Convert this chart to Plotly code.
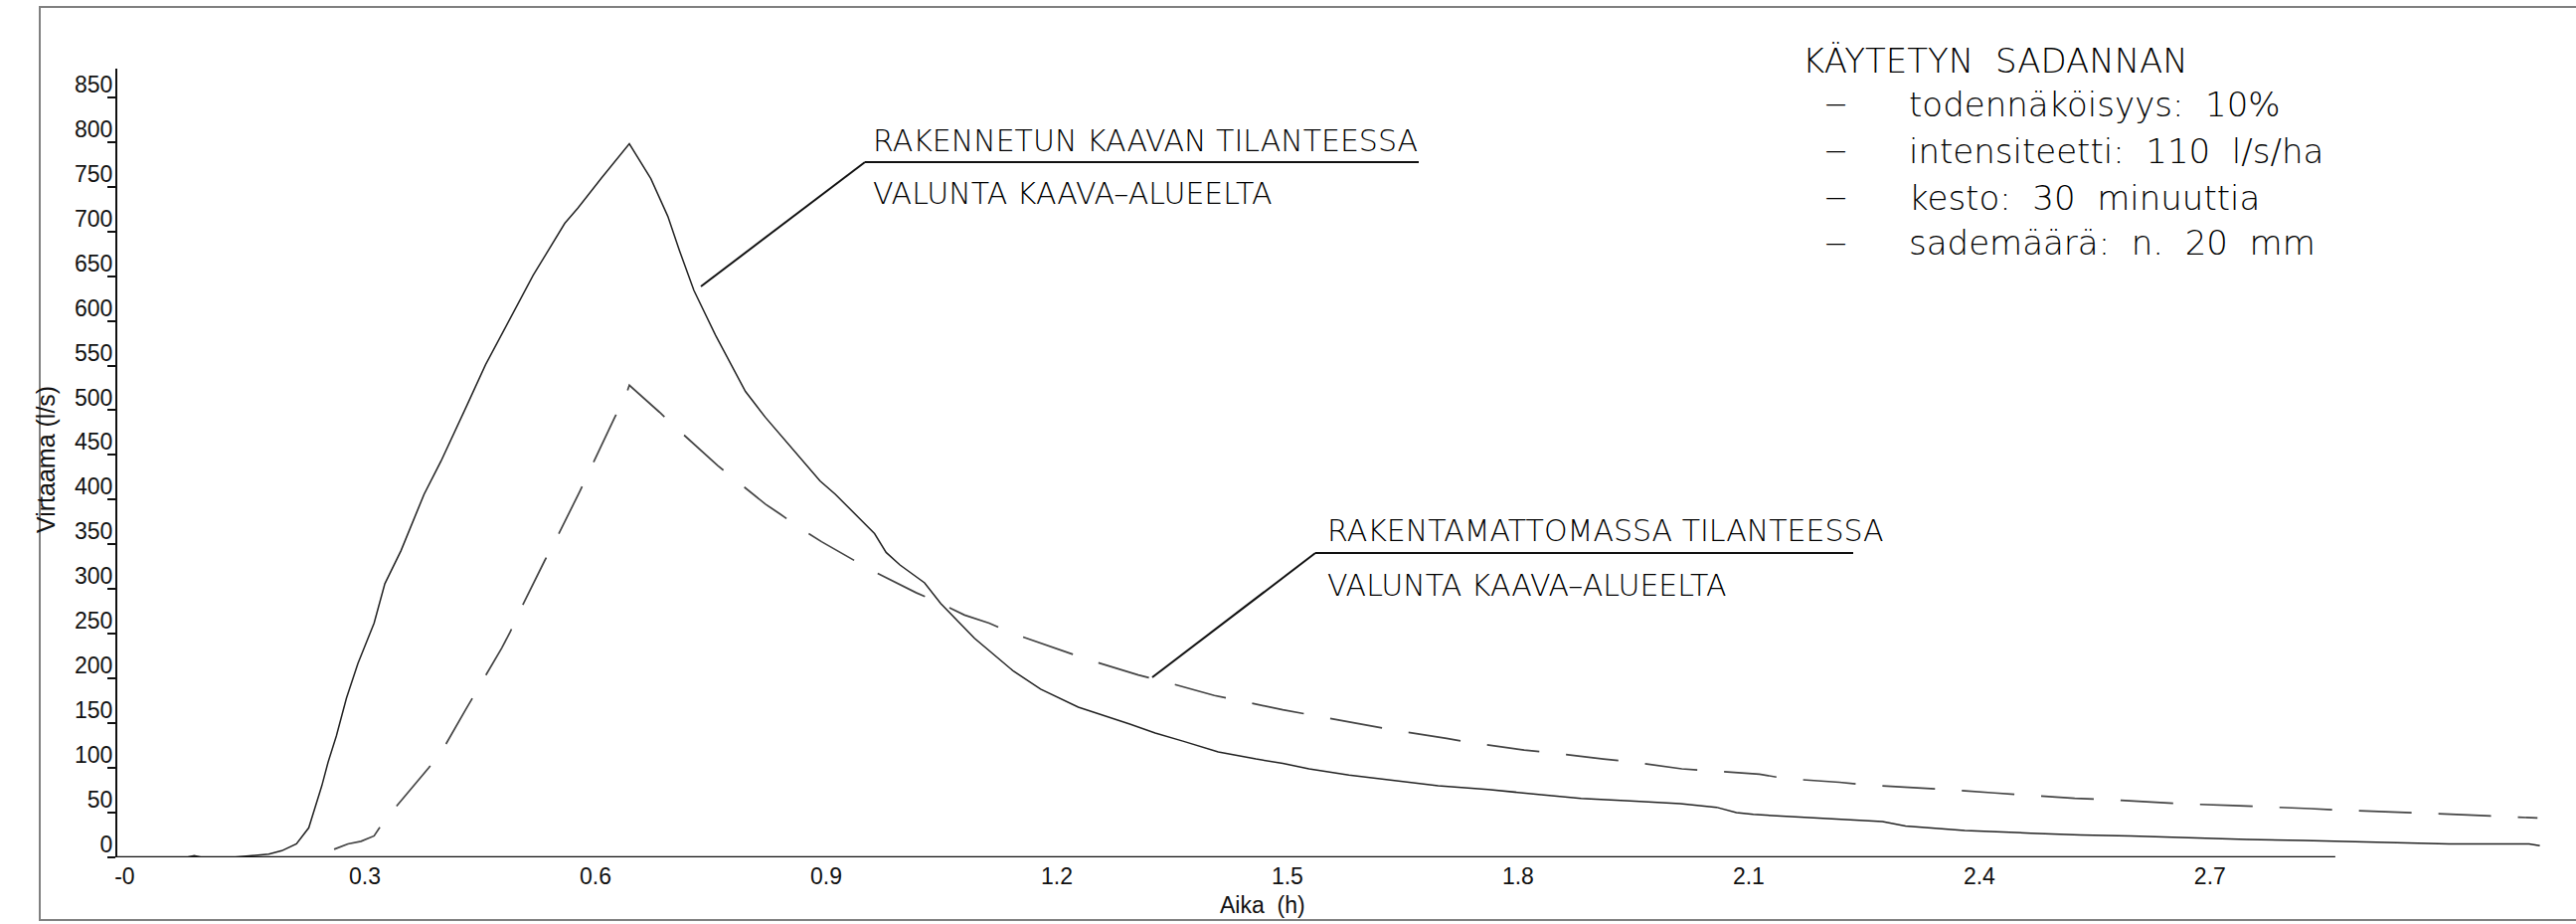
import plotly.graph_objects as go

# ---------------- data ----------------
t_built = [0, 0.09, 0.10, 0.11, 0.15, 0.171, 0.197, 0.214, 0.233, 0.249, 0.266, 0.274,
           0.285, 0.298, 0.313, 0.334, 0.348, 0.369, 0.399, 0.421, 0.449, 0.455, 0.479,
           0.503, 0.541, 0.582, 0.599, 0.630, 0.666, 0.694, 0.716, 0.731, 0.750, 0.778,
           0.817, 0.843, 0.914, 0.934, 0.968, 0.985, 1.000, 1.018, 1.050, 1.071, 1.115,
           1.166, 1.201, 1.250, 1.317, 1.350, 1.386, 1.432, 1.481, 1.516, 1.550, 1.602,
           1.718, 1.783, 1.852, 1.904, 1.968, 2.033, 2.080, 2.106, 2.128, 2.171, 2.231,
           2.296, 2.326, 2.403, 2.489, 2.554, 2.619, 2.684, 2.770, 2.843, 2.929, 3.033,
           3.137, 3.151]
q_built = [0, 0, 2, 0, 0, 1.4, 3.7, 7.4, 15, 33, 80, 106,
           136, 178, 217, 262, 306, 343, 406, 443, 494, 506, 551,
           590, 651, 709, 726, 760, 798, 759, 717, 679, 634, 584,
           521, 492, 421, 406, 377, 362, 341, 327, 307, 284, 245,
           208, 188, 168, 149, 139, 130, 118, 110, 105, 99, 92,
           80, 76, 70, 66, 63, 60, 56, 50, 48, 46, 43,
           40, 35, 30, 27, 25, 24, 22, 20, 19, 17, 15,
           15, 13]

t_natural = [0.282, 0.300, 0.317, 0.334, 0.341, 0.362, 0.405, 0.427, 0.453, 0.478, 0.500,
             0.511, 0.526, 0.556, 0.572, 0.602, 0.617, 0.634, 0.647, 0.662, 0.666, 0.705,
             0.731, 0.781, 0.809, 0.843, 0.862, 0.890, 0.916, 0.949, 0.979, 1.039, 1.071,
             1.102, 1.134, 1.166, 1.231, 1.263, 1.328, 1.360, 1.427, 1.461, 1.516, 1.561,
             1.628, 1.662, 1.729, 1.763, 1.830, 1.865, 1.933, 1.968, 2.035, 2.069, 2.136,
             2.171, 2.240, 2.274, 2.341, 2.376, 2.442, 2.477, 2.546, 2.580, 2.647, 2.682,
             2.752, 2.785, 2.853, 2.886, 2.955, 2.990, 3.058, 3.093, 3.148]
q_natural = [9, 15, 18, 24, 33, 56, 100, 126, 165, 202, 234,
             252, 280, 332, 358, 410, 438, 469, 492, 518, 528, 498,
             477, 438, 419, 395, 384, 367, 353, 337, 322, 296, 284,
             271, 262, 250, 230, 221, 204, 197, 181, 175, 165, 158,
             147, 142, 133, 128, 120, 117, 110, 107, 99, 97, 93,
             88, 84, 81, 78, 76, 72, 70, 66, 65, 62, 60,
             58, 57, 54.5, 53, 51, 50, 47.5, 46, 44]

x_tickvals = [0, 0.3, 0.6, 0.9, 1.2, 1.5, 1.8, 2.1, 2.4, 2.7]
x_ticktext = ["-0\u00a0\u00a0\u00a0", "0.3", "0.6", "0.9", "1.2", "1.5", "1.8",
              "2.1", "2.4", "2.7"]
y_tickvals = list(range(0, 851, 50))
y_ticktext = [str(v) for v in y_tickvals]

x_title = "Aika\u00a0\u00a0(h)"
y_title = "Virtaama (l/s)"
label_built = ["RAKENNETUN KAAVAN TILANTEESSA", "VALUNTA KAAVA\u2013ALUEELTA"]
label_natural = ["RAKENTAMATTOMASSA TILANTEESSA", "VALUNTA KAAVA\u2013ALUEELTA"]
info_title = "KÄYTETYN\u00a0\u00a0SADANNAN"
info_lines = ["todennäköisyys:\u00a0\u00a010%",
              "intensiteetti:\u00a0\u00a0110\u00a0\u00a0l/s/ha",
              "kesto:\u00a0\u00a030\u00a0\u00a0minuuttia",
              "sademäärä:\u00a0\u00a0n.\u00a0\u00a020\u00a0\u00a0mm"]

X_MAX = 3.158
Y_MAX = 882
X_AXIS_END = 2.885

# ---------------- layout geometry (pixels) ----------------
W, H = 2591, 929
L, R_PX, T, B_PX = 118, 2560, 69, 862
PW, PH = R_PX - L, B_PX - T


def px(x):
    return (x - L) / PW


def py(y):
    return (B_PX - y) / PH


TXT = dict(family="DejaVu Sans", size=30, color="#000", weight=200)
INFO = dict(family="DejaVu Sans", size=34, color="#000", weight=200)
DASH = dict(family="DejaVu Sans", size=30, color="#000", weight=200)
TICK = dict(family="Liberation Sans", size=23, color="#111")

fig = go.Figure()
fig.add_trace(go.Scatter(x=t_built, y=q_built, mode="lines",
                         line=dict(color="#222", width=1.5), showlegend=False))
fig.add_trace(go.Scatter(x=t_natural, y=q_natural, mode="lines",
                         line=dict(color="#444", width=1.7, dash="53px,27px"),
                         showlegend=False))

ann = []
# curve labels
ann.append(dict(x=px(876), y=py(141), text=label_built[0], font=TXT))
ann.append(dict(x=px(876), y=py(194), text=label_built[1], font=TXT))
ann.append(dict(x=px(1333), y=py(533), text=label_natural[0], font=TXT))
ann.append(dict(x=px(1333), y=py(588), text=label_natural[1], font=TXT))
# info block
ann.append(dict(x=px(1811), y=py(61), text=info_title, font=INFO))
for line, yy in zip(info_lines, [105, 152, 199, 244]):
    ann.append(dict(x=px(1832), y=py(yy), text="\u2212", font=DASH))
    ann.append(dict(x=px(1918), y=py(yy), text=line, font=INFO))
for a in ann:
    a.update(xref="paper", yref="paper", xanchor="left", yanchor="middle",
             showarrow=False)
# axis titles
ann.append(dict(x=px(1270), y=py(910), xref="paper", yref="paper", text=x_title,
                showarrow=False, xanchor="center", yanchor="middle", font=TICK))
ann.append(dict(x=px(46), y=py(462), xref="paper", yref="paper", text=y_title,
                showarrow=False, xanchor="center", yanchor="middle", textangle=-90,
                font=dict(family="Liberation Sans", size=25, color="#111")))

shapes = []
# outer frame
shapes.append(dict(type="rect", xref="paper", yref="paper",
                   x0=px(40), x1=px(2600), y0=py(925), y1=py(7),
                   line=dict(color="#808080", width=2)))
# x axis line (shorter than plotting area)
shapes.append(dict(type="line", xref="x", yref="y", x0=0, x1=X_AXIS_END, y0=0, y1=0,
                   line=dict(color="#111", width=2.5)))
# leaders + underlines
for (x0, y0, x1, y1) in [(870, 163, 1427, 163), (870, 163, 705, 288),
                         (1323, 556, 1864, 556), (1323, 556, 1159, 681)]:
    shapes.append(dict(type="line", xref="paper", yref="paper",
                       x0=px(x0), y0=py(y0), x1=px(x1), y1=py(y1),
                       line=dict(color="#111", width=2)))

fig.update_layout(
    width=W, height=H,
    margin=dict(l=L, r=W - R_PX, t=T, b=H - B_PX, pad=0),
    paper_bgcolor="white", plot_bgcolor="white",
    annotations=ann, shapes=shapes, showlegend=False,
    xaxis=dict(range=[0, X_MAX], tickvals=x_tickvals, ticktext=x_ticktext,
               showline=False, showgrid=False, zeroline=False, ticks="", ticklen=0,
               tickfont=TICK, ticklabelshift=17, ticklabelstandoff=3),
    yaxis=dict(range=[0, Y_MAX], tickvals=y_tickvals, ticktext=y_ticktext,
               showline=True, linecolor="#111", linewidth=2, showgrid=False,
               zeroline=False, ticks="outside", ticklen=8, tickwidth=1.5,
               tickcolor="#111", tickfont=TICK, ticklabelshift=-13,
               ticklabelstandoff=-10),
)

fig.write_html("out.html", config={"displayModeBar": False},
               post_script="document.body.style.margin='0';"
                           "document.body.style.overflow='hidden';")
